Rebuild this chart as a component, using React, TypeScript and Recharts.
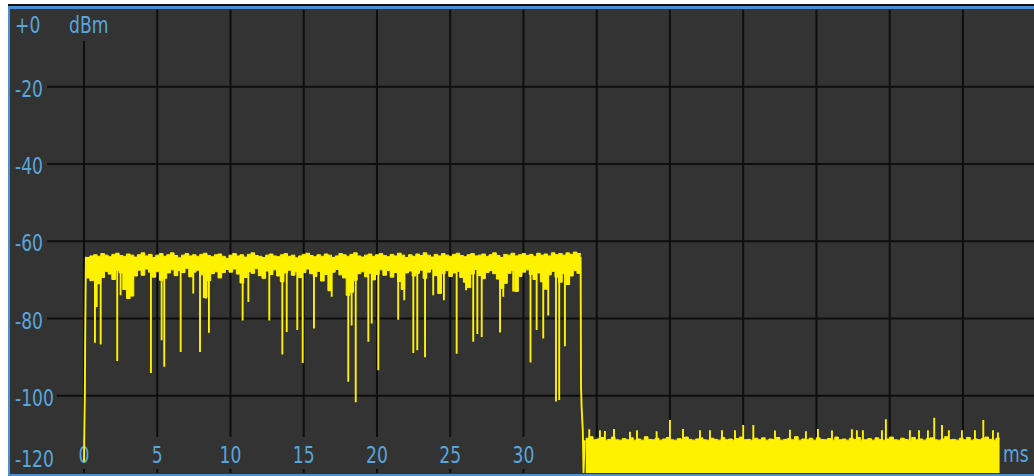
import React from 'react';
import { ComposedChart, Area, Line, XAxis, YAxis, CartesianGrid } from 'recharts';

// ---------- data ----------
const X_TICKS = [0, 5, 10, 15, 20, 25, 30, 35, 40, 45, 50, 55, 60];
const Y_TICKS = [0, -20, -40, -60, -80, -100, -120];
const Y_TICK_LABELS = ['+0', '-20', '-40', '-60', '-80', '-100', '-120'];
const Y_UNIT = 'dBm';
const X_UNIT = 'ms';
const X_DOMAIN: [number, number] = [-5.05, 64.85];
const Y_DOMAIN: [number, number] = [-120, 0];

// signal band (ms, dBm): upper / lower envelope of the burst
const BAND_START = 0.15;
const BAND_STEP = 0.25;
const bandHigh = [
  -64.2, -63.8, -63.5, -63.9, -63.2, -63.6, -64.0, -63.4, -63.1, -63.7,
  -63.9, -63.3, -63.6, -64.1, -63.5, -63.0, -63.8, -63.4, -64.2, -63.6,
  -63.2, -63.9, -63.5, -63.0, -63.7, -64.3, -63.6, -63.2, -63.8, -63.5,
  -63.9, -63.4, -63.1, -63.7, -64.0, -63.5, -63.3, -63.9, -64.4, -63.6,
  -63.2, -63.8, -63.5, -64.1, -63.4, -63.0, -63.7, -63.9, -64.2, -63.6,
  -63.3, -63.8, -64.0, -63.5, -63.2, -63.9, -63.6, -64.3, -63.8, -63.4,
  -63.1, -63.7, -64.0, -63.5, -63.9, -63.3, -63.6, -64.2, -63.8, -63.2,
  -63.5, -63.9, -63.4, -63.0, -63.8, -64.1, -63.6, -63.3, -63.9, -63.5,
  -63.2, -63.7, -64.0, -63.4, -63.8, -63.1, -63.6, -64.2, -63.5, -63.9,
  -63.3, -63.7, -63.0, -63.6, -64.1, -63.4, -63.8, -63.2, -63.6, -63.9,
  -63.4, -63.1, -63.7, -64.0, -63.5, -63.2, -63.8, -63.6, -63.3, -63.9,
  -63.5, -63.0, -63.7, -64.2, -63.4, -63.6, -63.1, -63.8, -63.5, -63.2,
  -63.7, -63.4, -63.9, -63.1, -63.6, -63.3, -63.8, -63.0, -63.5, -63.2,
  -63.6, -63.0, -63.4, -62.8, -63.2, -63.5,
];
const bandLow = [
  -69.5, -70.2, -68.8, -71.0, -69.4, -67.8, -68.5, -69.9, -67.6, -68.2,
  -72.5, -74.8, -74.2, -69.0, -67.5, -68.8, -67.2, -68.0, -69.3, -67.9,
  -70.1, -69.6, -68.2, -67.4, -68.9, -67.6, -68.1, -67.0, -69.2, -68.0,
  -67.5, -68.7, -74.6, -70.2, -68.4, -67.9, -69.5, -68.1, -67.3, -68.0,
  -67.2, -68.5, -70.8, -69.4, -67.8, -68.3, -67.1, -68.9, -69.6, -67.7,
  -68.6, -67.4, -69.0, -70.5, -68.2, -67.5, -68.8, -67.9, -69.4, -68.1,
  -67.2, -68.4, -69.1, -67.8, -70.3, -68.6, -72.8, -68.0, -67.3, -68.7,
  -69.5, -74.0, -73.2, -70.1, -68.4, -67.9, -69.2, -68.3, -70.0, -68.6,
  -67.4, -68.8, -67.6, -69.3, -68.1, -70.4, -72.5, -68.2, -67.7, -69.0,
  -68.3, -67.5, -69.6, -68.0, -67.2, -68.9, -73.5, -68.4, -67.6, -69.1,
  -68.2, -67.8, -69.4, -70.6, -72.0, -68.5, -67.3, -68.9, -69.7, -68.1,
  -67.6, -68.4, -69.8, -72.2, -70.9, -68.3, -67.5, -73.0, -69.1, -68.0,
  -67.4, -68.6, -69.9, -68.2, -70.5, -72.4, -68.7, -67.8, -69.3, -70.6,
  -68.4, -71.2, -69.0, -67.6, -68.3, -66.5,
];

// narrow dips inside the burst: [ms, dBm]
const SIGNAL_LEVEL = -66;
const signalSpikes: [number, number][] = [
  [0.75, -86.3], [0.87, -77.0], [1.14, -86.7], [2.27, -91.0], [2.5, -74.0],
  [3.0, -74.8], [4.57, -94.1], [5.3, -85.6], [5.48, -92.5], [6.6, -88.7],
  [7.46, -73.5], [7.92, -88.7], [8.33, -74.8], [8.53, -83.7], [10.83, -80.5],
  [11.22, -75.7], [12.65, -80.5], [13.54, -89.3], [13.84, -83.5], [14.56, -83.0],
  [14.93, -91.5], [15.7, -82.6], [16.91, -74.4], [18.04, -96.4], [18.27, -81.8],
  [18.55, -101.7], [19.41, -86.0], [19.64, -81.3], [20.09, -93.4], [21.45, -80.3],
  [21.86, -75.3], [22.48, -88.9], [22.75, -88.2], [23.28, -90.0], [23.84, -74.0],
  [24.57, -75.3], [25.44, -89.1], [26.08, -72.7], [26.57, -86.0], [26.85, -84.0],
  [27.15, -84.8], [28.4, -83.6], [28.62, -74.4], [29.3, -73.0], [30.48, -91.4],
  [30.9, -83.0], [31.35, -85.2], [31.69, -79.2], [32.22, -101.5], [32.44, -101.1],
  [32.83, -87.2],
];

// burst edges: [ms, dBm]
const risingEdge: [number, number][] = [
  [0.0, -117], [0.03, -107], [0.06, -100], [0.08, -86], [0.13, -64],
];
const fallingEdge: [number, number][] = [
  [33.9, -64], [33.93, -98], [33.97, -103], [34.05, -109], [34.1, -120], [34.18, -111.5],
];

// noise floor after the burst
const NOISE_START = 34.25;
const NOISE_STEP = 0.25;
const noiseTop = [
  -111.0, -110.6, -111.4, -111.2, -110.8, -111.5, -111.3, -110.7, -111.4, -111.5,
  -111.1, -111.4, -110.9, -111.5, -111.2, -111.5, -110.6, -111.3, -111.4, -111.0,
  -111.5, -111.2, -110.8, -111.4, -111.5, -111.1, -111.4, -110.7, -111.3, -111.5,
  -111.2, -110.9, -111.4, -111.5, -111.0, -111.3, -111.5, -110.8, -111.4, -111.2,
  -111.5, -111.1, -110.7, -111.4, -111.3, -111.5, -111.0, -111.4, -110.9, -111.5,
  -111.2, -111.4, -110.8, -111.5, -111.3, -111.1, -111.4, -110.6, -111.5, -111.2,
  -111.4, -111.0, -111.5, -110.9, -111.3, -111.4, -111.1, -111.5, -110.7, -111.4,
  -111.2, -111.5, -111.0, -111.3, -110.8, -111.5, -111.4, -111.1, -111.5, -110.9,
  -111.3, -111.5, -111.2, -110.7, -111.4, -111.5, -111.0, -111.3, -111.5, -110.8,
  -111.4, -111.2, -111.5, -111.1, -110.9, -111.4, -111.5, -111.2, -110.6, -111.4,
  -111.3, -111.5, -111.0, -111.4, -110.8, -111.5, -111.2, -111.4, -111.1, -110.7,
  -111.3, -111.5, -111.0, -110.9,
];
const NOISE_LEVEL = -112;
const noiseSpikes: [number, number][] = [
  [34.49, -108.7], [35.22, -108.9], [35.56, -109.1], [36.18, -108.6], [37.27, -109.3],
  [37.75, -108.9], [39.09, -109.2], [40.0, -106.3], [40.89, -108.6], [42.05, -108.9],
  [42.73, -108.9], [43.55, -108.9], [44.44, -108.9], [45.0, -107.6], [45.69, -107.6],
  [47.17, -109.0], [48.19, -108.8], [49.28, -109.2], [50.1, -108.6], [51.06, -109.0],
  [52.42, -108.7], [52.76, -108.9], [53.17, -108.9], [54.47, -108.9], [54.74, -106.1],
  [56.38, -108.9], [57.0, -108.9], [57.61, -108.9], [58.04, -105.7], [58.57, -107.6],
  [59.04, -108.9], [59.93, -108.9], [60.82, -108.9], [61.39, -106.3], [62.05, -108.9],
  [62.39, -109.5],
];

// ---------- build chart table ----------
type Row = { t: number; band?: [number, number]; noise?: number; trace?: number | null };
const rows: Row[] = [];
bandHigh.forEach((hi, i) => rows.push({ t: BAND_START + i * BAND_STEP, band: [bandLow[i], hi] }));
noiseTop.forEach((v, i) => rows.push({ t: NOISE_START + i * NOISE_STEP, noise: v }));
const pushSegment = (pts: [number, number][]) => {
  pts.forEach(([t, v]) => rows.push({ t, trace: v }));
  rows.push({ t: pts[pts.length - 1][0], trace: null });
};
pushSegment(risingEdge);
signalSpikes.forEach(([t, d]) => pushSegment([[t, SIGNAL_LEVEL], [t, d]]));
pushSegment(fallingEdge);
noiseSpikes.forEach(([t, h]) => pushSegment([[t, NOISE_LEVEL], [t, h]]));
rows.sort((a, b) => a.t - b.t);

// ---------- style ----------
const W = 1034;
const H = 476;
const PLOT_LEFT = 10;
const PLOT_TOP = 9.5;
const PLOT_BOTTOM = 473;
const BG = '#333333';
const GRID = '#0e0e0e';
const TRACE = '#fff200';
const TEXT = '#58a6dc';
const FRAME = '#4a8fd0';
const FONT = "'DejaVu Sans Condensed', 'DejaVu Sans', sans-serif";
const FONT_SIZE = 23;
const SQUEEZE = 0.83;

const Txt = ({ x, y, anchor, children }: any) => (
  <text
    transform={`translate(${x},${y}) scale(${SQUEEZE},1)`}
    x={0}
    y={0}
    textAnchor={anchor || 'start'}
    fill={TEXT}
    fontFamily={FONT}
    fontSize={FONT_SIZE}
  >
    {children}
  </text>
);

const YTick = (props: any) => {
  const { y, payload } = props;
  const v = payload.value;
  const text = Y_TICK_LABELS[Y_TICKS.indexOf(v)];
  let baseline = y + 10;
  if (v === Y_TICKS[0]) baseline = y + 23.5;
  if (v === Y_TICKS[Y_TICKS.length - 1]) baseline = y - 6;
  const w = text.length * 9.7 + 8;
  return (
    <g>
      <rect x={PLOT_LEFT} y={baseline - 24} width={w} height={32} fill={BG} />
      <Txt x={PLOT_LEFT + 5} y={baseline}>{text}</Txt>
      {v === Y_TICKS[0] && (
        <g>
          <rect x={66} y={baseline - 24} width={49} height={32} fill={BG} />
          <Txt x={69} y={baseline}>{Y_UNIT}</Txt>
        </g>
      )}
    </g>
  );
};

const XTick = (props: any) => {
  const { x, payload } = props;
  const text = String(payload.value);
  const w = text.length * 10 + 6;
  const baseline = PLOT_BOTTOM - 10;
  return (
    <g>
      <rect x={x - w / 2} y={PLOT_BOTTOM - 36} width={w} height={32} fill={BG} />
      <Txt x={x} y={baseline} anchor="middle">{text}</Txt>
      {payload.value === X_TICKS[X_TICKS.length - 1] && (
        <Txt x={1003} y={baseline - 1}>{X_UNIT}</Txt>
      )}
    </g>
  );
};

const layer: React.CSSProperties = { position: 'absolute', left: 0, top: 0 };

export default function App() {
  return (
    <div style={{ position: 'absolute', left: 0, top: 0, width: W, height: H, background: '#fff', overflow: 'hidden' }}>
      <div style={{ position: 'absolute', left: 8, top: 4, width: W - 8, height: H - 4, background: BG }} />
      {/* grid + scale labels */}
      <div style={layer}>
        <ComposedChart
          width={W}
          height={H}
          data={rows}
          margin={{ top: PLOT_TOP, right: 0, bottom: H - PLOT_BOTTOM - 1, left: PLOT_LEFT - 1 }}
        >
          <CartesianGrid
            stroke={GRID}
            strokeWidth={2}
            horizontalValues={[-20, -40, -60, -80, -100]}
            verticalValues={X_TICKS}
          />
          <XAxis
            dataKey="t"
            type="number"
            domain={X_DOMAIN}
            ticks={X_TICKS}
            interval={0}
            height={1}
            axisLine={false}
            tickLine={false}
            tick={XTick}
            allowDataOverflow
          />
          <YAxis
            type="number"
            domain={Y_DOMAIN}
            ticks={Y_TICKS}
            interval={0}
            width={1}
            axisLine={false}
            tickLine={false}
            tick={YTick}
            allowDataOverflow
          />
        </ComposedChart>
      </div>
      {/* trace, drawn over the labels */}
      <div style={layer}>
        <ComposedChart
          width={W}
          height={H}
          data={rows}
          margin={{ top: PLOT_TOP, right: 0, bottom: H - PLOT_BOTTOM, left: PLOT_LEFT }}
        >
          <XAxis dataKey="t" type="number" domain={X_DOMAIN} hide allowDataOverflow />
          <YAxis type="number" domain={Y_DOMAIN} hide allowDataOverflow />
          <Area
            dataKey="band"
            type="stepAfter"
            stroke={TRACE}
            strokeWidth={1}
            fill={TRACE}
            fillOpacity={1}
            connectNulls
            isAnimationActive={false}
            dot={false}
            activeDot={false}
          />
          <Area
            dataKey="noise"
            type="stepAfter"
            stroke={TRACE}
            strokeWidth={1}
            fill={TRACE}
            fillOpacity={1}
            baseValue={-120}
            connectNulls
            isAnimationActive={false}
            dot={false}
            activeDot={false}
          />
          <Line
            dataKey="trace"
            type="linear"
            stroke={TRACE}
            strokeWidth={1.9}
            dot={false}
            activeDot={false}
            connectNulls={false}
            isAnimationActive={false}
          />
        </ComposedChart>
      </div>
      <div style={{ position: 'absolute', left: 8, top: 4, width: W - 8, height: 2, background: '#111' }} />
      <div style={{ position: 'absolute', left: 8, top: 6, width: W - 8, height: 3, background: FRAME }} />
      <div style={{ position: 'absolute', left: 8, top: 6, width: 2, height: H - 6, background: FRAME }} />
      <div style={{ position: 'absolute', left: 8, top: H - 2, width: W - 8, height: 2, background: FRAME }} />
    </div>
  );
}
